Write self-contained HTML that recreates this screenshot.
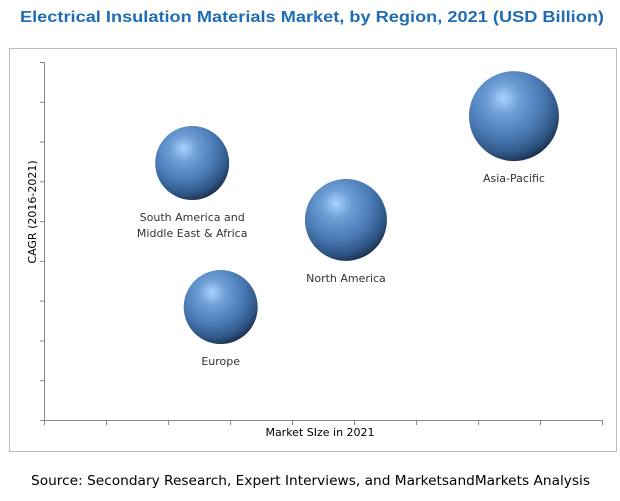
<!DOCTYPE html>
<html><head><meta charset="utf-8"><style>
body{margin:0;background:#fff;width:620px;height:496px;overflow:hidden;font-family:"Liberation Sans",sans-serif}
</style></head><body>
<svg width="620" height="496" xmlns="http://www.w3.org/2000/svg">
<defs>
<radialGradient id="g" cx="0.4" cy="0.33" r="0.7" fx="0.38" fy="0.3">
<stop offset="0" stop-color="#a9d3ff"/>
<stop offset="0.25" stop-color="#6f9fd6"/>
<stop offset="0.6" stop-color="#4a7ab5"/>
<stop offset="0.85" stop-color="#2f5685"/>
<stop offset="1" stop-color="#1b2f4a"/>
</radialGradient>
</defs>
<text x="20" y="22" textLength="584" lengthAdjust="spacingAndGlyphs" font-size="16" font-weight="bold" fill="#1f6db4" font-family="Liberation Sans, sans-serif">Electrical Insulation Materials Market, by Region, 2021 (USD Billion)</text>
<rect x="9.5" y="48.5" width="607" height="403" fill="#fff" stroke="#bdbdbd"/>
<g id="axes"></g>
<g id="bubbles"></g>
<text x="320" y="436" text-anchor="middle" font-size="11" font-family="DejaVu Sans, sans-serif" fill="#000">Market SIze in 2021</text>
<text transform="translate(36,212) rotate(-90)" text-anchor="middle" font-size="11" font-family="DejaVu Sans, sans-serif" fill="#000">CAGR (2016-2021)</text>
<text x="31" y="485" textLength="559" lengthAdjust="spacingAndGlyphs" font-size="13" font-family="DejaVu Sans, sans-serif" fill="#000">Source: Secondary Research, Expert Interviews, and MarketsandMarkets Analysis</text>
</svg>
<script>
const regions = ["South America and|Middle East & Africa","North America","Europe","Asia-Pacific"];
const marketSize = [2.39,4.87,2.85,7.58];
const cagr = [6.46,5.03,2.84,7.64];
const bubbleSize = [37,41,37,45];
const xTicks = [0,1,2,3,4,5,6,7,8,9];
const yTicks = [0,1,2,3,4,5,6,7,8,9];
const X0=44,X1=602,Y0=420,Y1=62;
const xs=v=>X0+(X1-X0)*v/9, ys=v=>Y0-(Y0-Y1)*v/9;
const NS="http://www.w3.org/2000/svg";
const ax=document.getElementById('axes'), bb=document.getElementById('bubbles');
function mk(t,a,p){const e=document.createElementNS(NS,t);for(const k in a)e.setAttribute(k,a[k]);p.appendChild(e);return e;}
let l=mk('line',{x1:X0+.5,y1:Y1,x2:X0+.5,y2:Y0,stroke:'#888'},ax);


l=mk('line',{x1:X0,y1:Y0+.5,x2:X1,y2:Y0+.5,stroke:'#888'},ax);


xTicks.forEach(t=>{const e=mk('line',{x1:xs(t)+.5,y1:Y0,x2:xs(t)+.5,y2:Y0+5,stroke:'#888'},ax);

});
yTicks.forEach(t=>{const e=mk('line',{x1:X0-4,y1:ys(t)+.5,x2:X0,y2:ys(t)+.5,stroke:'#888'},ax);

});
regions.forEach((r,i)=>{const cx=xs(marketSize[i]),cy=ys(cagr[i]),rad=bubbleSize[i];
const c=mk('circle',{cx:cx,cy:cy,r:rad,fill:'url(#g)'},bb);


const lines=r.split('|');
lines.forEach((s,j)=>{const t=mk('text',{x:cx,y:cy+rad+21+j*16,'text-anchor':'middle','font-size':'11','font-family':'DejaVu Sans, sans-serif',fill:'#333'},bb);
t.textContent=s;

});
});
</script>
</body></html>
